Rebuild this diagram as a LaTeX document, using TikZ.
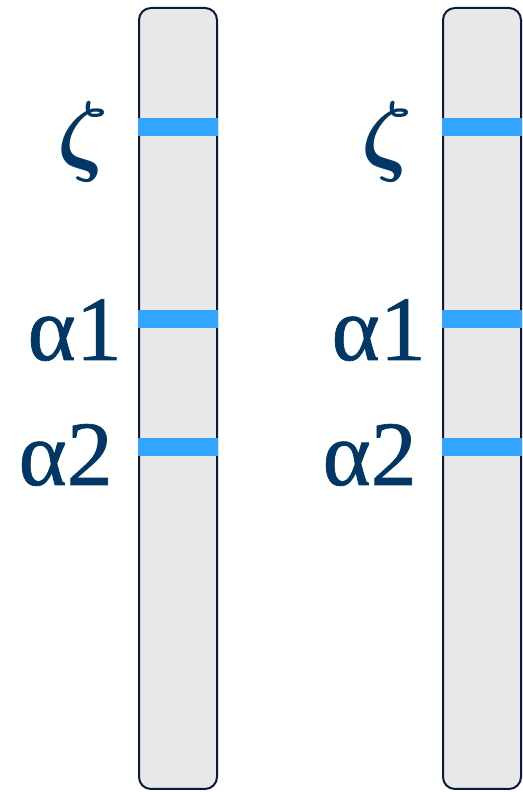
\documentclass[tikz,border=0pt]{standalone}
\usepackage{fontspec}
\setmainfont{Liberation Serif}
\newfontfamily\etiqfont[FakeBold=0.8]{Liberation Serif}
\definecolor{bande}{HTML}{33A4FF}
\definecolor{fond}{HTML}{E8E8E8}
\definecolor{bord}{HTML}{0B1B3D}
\definecolor{texte}{HTML}{003764}
\tikzset{
  gel/.style={fill=fond, draw=bord, line width=2pt, rounded corners=12pt},
  marque/.style={fill=bande},
  etiq/.style={anchor=base east, inner sep=0pt, text=texte,
    font=\etiqfont\fontsize{92}{92}\selectfont},
  etiqz/.style={etiq, font=\Huge\boldmath, scale=3.617, transform shape},
}
\begin{document}
\begin{tikzpicture}[x=1pt,y=1pt]
\useasboundingbox (0,0) rectangle (522,792);
\def\dx{304}
% Colonnes
\draw[gel] (139,3) rectangle (217,784);
\draw[gel] (139+\dx,3) rectangle (217+\dx,784);

% Bandes
\fill[marque] (138,656) rectangle (218,674);
\fill[marque] (138,463.5) rectangle (218,481.5);
\fill[marque] (138,336) rectangle (218,354);
\fill[marque] (138+\dx,656) rectangle (218+\dx,674);
\fill[marque] (138+\dx,463.5) rectangle (218+\dx,481.5);
\fill[marque] (138+\dx,336) rectangle (218+\dx,354);

% Etiquettes
\node[etiqz] (zg) at (110,627) {$\zeta$};
\node[etiq] (a1g) at (122,432) {α1};
\node[etiq] (a2g) at (113,307) {α2};
\node[etiqz] (zd) at (110+\dx,627) {$\zeta$};
\node[etiq] (a1d) at (122+\dx,432) {α1};
\node[etiq] (a2d) at (113+\dx,307) {α2};

\end{tikzpicture}
\end{document}
